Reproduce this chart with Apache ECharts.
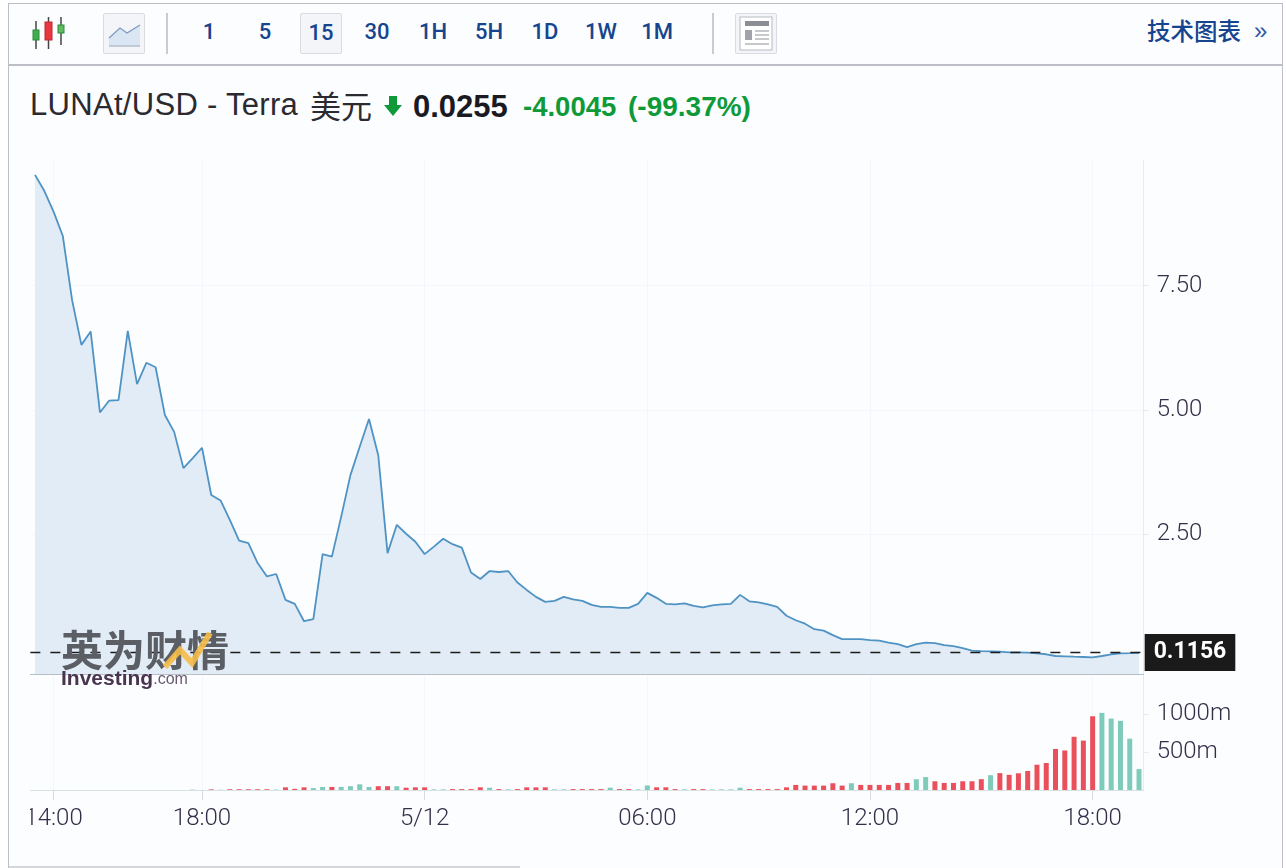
<!DOCTYPE html>
<html>
<head>
<meta charset="utf-8">
<title>LUNAt/USD</title>
<script src="https://cdn.jsdelivr.net/npm/echarts@6/dist/echarts.min.js"></script>
<style>
  html, body { margin: 0; padding: 0; background: #fff; }
  #page { position: relative; width: 1286px; height: 868px; overflow: hidden; background: #fff; font-family: Roboto, "Noto Sans CJK SC", sans-serif; }
  #frame { position: absolute; left: 8px; top: 3px; width: 1273px; height: 870px; border: 1.5px solid #bcbfc5; background: #fcfdff; }
  #bar-line { position: absolute; left: 9px; top: 64px; width: 1273px; height: 1.5px; background: #bcbfc5; }
  .tf { position: absolute; top: 13px; width: 42px; height: 41px; line-height: 37px; text-align: center; color: #16458f; font-size: 22px; font-weight: 500; box-sizing: border-box; }
  .btn { border: 1px solid #d8dbe0; border-radius: 2px; background: #f3f5f8; }
  .sep { position: absolute; top: 13px; width: 1.5px; height: 41px; background: #c8ccd2; }
  .abs { position: absolute; white-space: nowrap; }
  #chart { position: absolute; left: 30px; top: 140px; width: 1250px; height: 720px; }
</style>
</head>
<body>
<div id="page">
  <div id="frame"></div>
  <div id="bar-line"></div>
  <svg class="abs" style="left:0;top:0" width="800" height="60">
    <g stroke="#444" stroke-width="1.5">
      <line x1="36" y1="21" x2="36" y2="49"/><line x1="48.5" y1="17" x2="48.5" y2="49"/><line x1="61" y1="17" x2="61" y2="45"/>
    </g>
    <rect x="33" y="30" width="6" height="10" fill="#3fae4e" stroke="#2c8a3a"/>
    <rect x="45" y="22" width="7" height="18" fill="#e8373f" stroke="#b92a30"/>
    <rect x="58" y="25" width="6" height="8" fill="#5dbb62" stroke="#2c8a3a"/>
  </svg>
  <div class="tf btn" style="left:103px"></div>
  <svg class="abs" style="left:0;top:0" width="160" height="60">
    <polygon points="109,38 120,28 127,33 140,25 140,46 109,46" fill="#dbe6f5"/>
    <polyline points="109,38 120,28 127,33 140,25" fill="none" stroke="#7f9cc0" stroke-width="1.3"/>
    <line x1="109" y1="46" x2="140" y2="46" stroke="#b5bdc9" stroke-width="1.5"/>
  </svg>
  <div class="sep" style="left:166px"></div>
  <div class="tf" style="left:188px">1</div>
  <div class="tf" style="left:244px">5</div>
  <div class="tf btn" style="left:300px">15</div>
  <div class="tf" style="left:356px">30</div>
  <div class="tf" style="left:412px">1H</div>
  <div class="tf" style="left:468px">5H</div>
  <div class="tf" style="left:524px">1D</div>
  <div class="tf" style="left:580px">1W</div>
  <div class="tf" style="left:636px">1M</div>
  <div class="sep" style="left:712px"></div>
  <div class="tf btn" style="left:735px"></div>
  <svg class="abs" style="left:730px;top:0" width="60" height="60">
    <rect x="10" y="17" width="32" height="33" fill="#fff" stroke="#b8bbc0"/>
    <rect x="15" y="21" width="24" height="5" fill="#8b8e93"/>
    <rect x="15" y="30" width="7" height="10" fill="#a0a3a8"/>
    <g stroke="#b3b6bb" stroke-width="1.5"><line x1="25" y1="31" x2="39" y2="31"/><line x1="25" y1="35" x2="39" y2="35"/><line x1="25" y1="39" x2="39" y2="39"/><line x1="15" y1="44" x2="39" y2="44"/></g>
  </svg>
  <div class="abs" style="left:1147px;top:13px;color:#16458f;font-size:23.5px;font-weight:500;font-family:'Noto Sans CJK SC'">技术图表</div>
  <div class="abs" style="left:1254px;top:17px;color:#2d5aa0;font-size:24px;font-family:'Liberation Sans'">»</div>

  <div class="abs" style="left:30px;top:87px;color:#2a2a30;font-size:31px;letter-spacing:0.3px;font-family:'Liberation Sans'">LUNAt/USD - Terra</div>
  <div class="abs" style="left:310px;top:82px;color:#2a2a30;font-size:31px;font-family:'Noto Sans CJK SC'">美元</div>
  <svg class="abs" style="left:384px;top:96px" width="18" height="21"><polygon points="5,0 13,0 13,9 18,9 9,20 0,9 5,9" fill="#0f9a3a"/></svg>
  <div class="abs" style="left:413px;top:89px;color:#1a1a22;font-size:31px;font-weight:bold;font-family:'Liberation Sans'">0.0255</div>
  <div class="abs" style="left:523px;top:91px;color:#0f9a3a;font-size:27.5px;font-weight:bold;font-family:'Liberation Sans'">-4.0045</div>
  <div class="abs" style="left:628px;top:91px;color:#0f9a3a;font-size:28px;font-weight:bold;font-family:'Liberation Sans'">(-99.37%)</div>

  <div id="chart"></div>
  <div class="abs" style="left:9px;top:866px;width:511px;height:2px;background:#d4d6da"></div>
</div>
<script>
var lastPrice = 0.1156;
var priceTicks = [2.5, 5, 7.5];
var volumeTicks = [500, 1000];
var tickTimes = ["5/11 14:00", "5/11 18:00", "5/12 00:00", "5/12 06:00", "5/12 12:00", "5/12 18:00"];
var tickLabels = ["14:00", "18:00", "5/12", "06:00", "12:00", "18:00"];

var prices = [
  9.73, 9.41, 8.99, 8.50, 7.21, 6.31, 6.58, 4.95, 5.19, 5.20,
  6.59, 5.52, 5.95, 5.86, 4.90, 4.56, 3.83, 4.03, 4.24, 3.29,
  3.18, 2.79, 2.37, 2.32, 1.92, 1.65, 1.70, 1.18, 1.10, 0.75,
  0.79, 2.10, 2.05, 2.85, 3.69, 4.26, 4.82, 4.09, 2.12, 2.69,
  2.51, 2.35, 2.10, 2.25, 2.41, 2.30, 2.23, 1.73, 1.60, 1.76,
  1.74, 1.76, 1.53, 1.38, 1.24, 1.14, 1.16, 1.24, 1.19, 1.16,
  1.08, 1.04, 1.04, 1.02, 1.02, 1.10, 1.32, 1.22, 1.10, 1.09,
  1.11, 1.06, 1.03, 1.07, 1.09, 1.10, 1.28, 1.15, 1.13, 1.09,
  1.04, 0.86, 0.77, 0.70, 0.59, 0.56, 0.47, 0.39, 0.39, 0.39,
  0.37, 0.36, 0.32, 0.29, 0.23, 0.29, 0.32, 0.31, 0.27, 0.25,
  0.21, 0.16, 0.15, 0.145, 0.137, 0.125, 0.125, 0.117, 0.105, 0.085,
  0.05, 0.044, 0.036, 0.03, 0.024, 0.05, 0.085, 0.105, 0.11, 0.1156
];

var volumes = [
  0, 0, 0, 0, 0, 0, 0, 0, 0, 0,
  0, 0, 0, 0, 0, 0, 0, 5, 0, 8,
  3, 10, 10, 10, 10, 10, 6, 35, 15, 35,
  25, 40, 40, 40, 50, 75, 40, 50, 50, 50,
  30, 35, 35, 8, 8, 12, 12, 12, 35, 30,
  12, 8, 12, 35, 35, 35, 8, 8, 12, 12,
  12, 12, 30, 12, 12, 8, 60, 35, 35, 12,
  8, 12, 12, 8, 8, 8, 30, 12, 12, 12,
  12, 35, 67, 58, 58, 58, 89, 58, 89, 67,
  67, 67, 67, 93, 93, 142, 170, 115, 93, 93,
  115, 115, 142, 195, 222, 200, 220, 250, 333, 355,
  540, 520, 700, 650, 970, 1015, 940, 910, 675, 275
];
// bars drawn green, everything else is red
var greenBars = [17, 20, 26, 30, 31, 33, 34, 35, 36, 39, 43, 44, 49, 51, 56, 57, 62, 65, 66, 70, 73, 74, 75, 76, 88, 95, 96, 103, 115, 116, 117, 118, 119];

// 15 minute bars from 5/11 13:30
var categories = [];
for (var i = 0; i < prices.length; i++) {
  var mins = 13 * 60 + 30 + i * 15;
  var day = mins >= 1440 ? "5/12" : "5/11";
  var hh = Math.floor(mins / 60) % 24;
  var mm = mins % 60;
  categories.push(day + " " + (hh < 10 ? "0" : "") + hh + ":" + (mm < 10 ? "0" : "") + mm);
}

var isTick = function (index, value) {
  return tickTimes.indexOf(value) !== -1;
};

var labelColor = "#352e48";
var labelFont = { color: labelColor, fontSize: 24, fontFamily: "Roboto", fontWeight: 300 };
var faint = "#f3f6fa";

var chart = echarts.init(document.getElementById("chart"));
chart.setOption({
  animation: false,
  backgroundColor: "transparent",
  grid: [
    { left: 0.36, width: 1113.3, top: 20, height: 514, outerBoundsMode: "none" },
    { left: 0.36, width: 1113.3, top: 535, height: 115, outerBoundsMode: "none" }
  ],
  xAxis: [
    {
      type: "category",
      gridIndex: 0,
      data: categories,
      axisLine: { show: true, onZero: false, lineStyle: { color: "#b7bec5", width: 1.2 } },
      axisTick: { show: false },
      axisLabel: { show: false },
      splitLine: { show: true, interval: isTick, alignWithLabel: true, lineStyle: { color: faint } }
    },
    {
      type: "category",
      gridIndex: 1,
      data: categories,
      axisLine: { show: true, onZero: false, lineStyle: { color: "#d9e1e5" } },
      axisTick: { show: true, interval: isTick, alignWithLabel: true, length: 10, lineStyle: { color: "#d5dbe0" } },
      axisLabel: Object.assign({}, labelFont, {
        interval: isTick,
        margin: 17,
        formatter: function (value) {
          return tickLabels[tickTimes.indexOf(value)];
        }
      }),
      splitLine: { show: true, interval: isTick, alignWithLabel: true, lineStyle: { color: faint } }
    }
  ],
  yAxis: [
    {
      type: "value",
      gridIndex: 0,
      position: "right",
      min: -0.312,
      max: 10.03,
      axisLine: { show: true, lineStyle: { color: "#e6ebef" } },
      axisTick: { show: true, length: 5, customValues: priceTicks, lineStyle: { color: "#e6ebef" } },
      axisLabel: Object.assign({}, labelFont, {
        margin: 13,
        padding: [2, 0, 0, 0],
        customValues: priceTicks,
        formatter: function (value) {
          return value.toFixed(2);
        }
      }),
      splitLine: { show: true, lineStyle: { color: faint } }
    },
    {
      type: "value",
      gridIndex: 1,
      position: "right",
      min: 0,
      max: 1513,
      axisLine: { show: true, lineStyle: { color: "#e6ebef" } },
      axisTick: { show: true, length: 5, customValues: volumeTicks, lineStyle: { color: "#e6ebef" } },
      axisLabel: Object.assign({}, labelFont, {
        margin: 13,
        customValues: volumeTicks,
        formatter: function (value) {
          return value + "m";
        }
      }),
      splitLine: { show: false }
    }
  ],
  series: [
    {
      type: "line",
      xAxisIndex: 0,
      yAxisIndex: 0,
      data: prices,
      symbol: "none",
      smooth: false,
      lineStyle: { color: "#4f93c4", width: 1.8 },
      areaStyle: { color: "#e2ecf6", opacity: 1, origin: "start" },
      markLine: {
        silent: true,
        symbol: "none",
        animation: false,
        lineStyle: { color: "#1c1c1c", type: [10, 10], width: 1.4 },
        label: {
          position: "end",
          distance: 1,
          formatter: function () {
            return lastPrice.toFixed(4);
          },
          backgroundColor: "#1a1a1a",
          color: "#fff",
          fontFamily: "Roboto",
          fontWeight: "bold",
          fontSize: 23,
          padding: [8, 9, 6, 9]
        },
        data: [{ yAxis: lastPrice }]
      }
    },
    {
      type: "bar",
      xAxisIndex: 1,
      yAxisIndex: 1,
      barWidth: 5,
      data: volumes.map(function (v, idx) {
        return { value: v, itemStyle: { color: greenBars.indexOf(idx) !== -1 ? "#7fcbbb" : "#e9505c" } };
      })
    }
  ],
  graphic: [
    {
      type: "text",
      left: 31,
      top: 489,
      z: 100,
      style: { text: "英为财情", fill: "#5b5e64", font: "bold 42px 'Noto Sans CJK SC'" }
    },
    {
      type: "polyline",
      z: 101,
      shape: { points: [[135, 527], [150, 510], [162, 523], [180, 493]] },
      style: { stroke: "#f6bd48", lineWidth: 6, fill: null, opacity: 0.9 }
    },
    {
      type: "text",
      left: 31,
      top: 529,
      z: 100,
      style: {
        rich: {
          a: { fill: "#4a3550", font: "bold 21px 'Liberation Sans'" },
          b: { fill: "#6a5a70", font: "16px 'Liberation Sans'" }
        },
        text: "{a|Investing}{b|.com}"
      }
    }
  ]
});
</script>
</body>
</html>
